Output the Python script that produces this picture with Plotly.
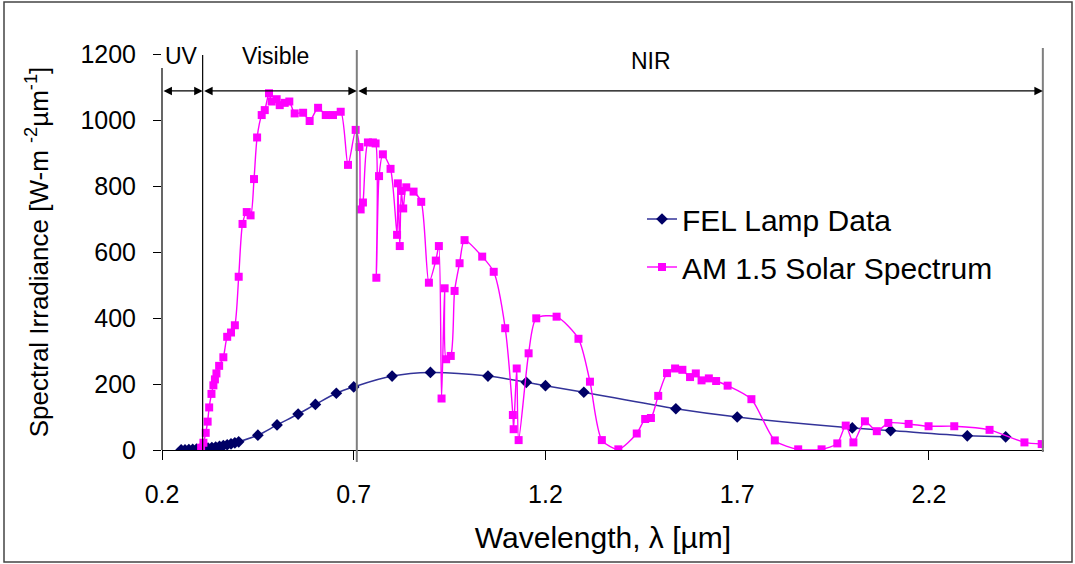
import plotly.graph_objects as go

# AM 1.5 solar spectrum (wavelength in um, irradiance in W m^-2 um^-1)
am15_wl = [0.302, 0.308, 0.314, 0.319, 0.323, 0.329, 0.334, 0.338, 0.342, 0.349,
           0.360, 0.370, 0.380, 0.390, 0.400, 0.410, 0.421, 0.431, 0.440, 0.448,
           0.460, 0.468, 0.479, 0.486, 0.499, 0.507, 0.520, 0.532, 0.546, 0.568,
           0.585, 0.607, 0.627, 0.646, 0.666, 0.685, 0.705, 0.715, 0.718, 0.724,
           0.737, 0.750, 0.757, 0.759, 0.766, 0.776, 0.796, 0.813, 0.815, 0.820,
           0.824, 0.829, 0.837, 0.856, 0.876, 0.896, 0.914, 0.922, 0.929, 0.937,
           0.941, 0.953, 0.963, 0.976, 0.989, 1.035, 1.065, 1.095, 1.115, 1.117,
           1.125, 1.130, 1.156, 1.176, 1.229, 1.286, 1.316, 1.347, 1.390, 1.438,
           1.460, 1.475, 1.494, 1.517, 1.538, 1.557, 1.577, 1.592, 1.607, 1.626,
           1.645, 1.675, 1.737, 1.798, 1.859, 1.920, 1.961, 1.983, 2.003, 2.033,
           2.064, 2.094, 2.147, 2.199, 2.266, 2.358, 2.449, 2.494]
am15_irr = [7, 22, 52, 86, 129, 170, 196, 214, 232, 255,
            281, 343, 356, 378, 525, 685, 721, 711, 821, 947,
            1015, 1030, 1081, 1056, 1063, 1045, 1052, 1056, 1020, 1022,
            997, 1037, 1015, 1015, 1025, 864, 970, 918, 729, 750,
            932, 932, 929, 522, 830, 896, 852, 652, 808, 618,
            785, 732, 796, 783, 752, 507, 574, 618, 156, 490,
            275, 285, 482, 566, 636, 586, 540, 369, 106, 63,
            247, 30, 293, 399, 404, 337, 207, 30, 2, 50,
            94, 97, 164, 233, 247, 243, 221, 232, 211, 217,
            209, 195, 154, 29, 2, 2, 20, 74, 23, 87,
            57, 82, 79, 72, 72, 61, 23, 18]

# FEL lamp calibration data
fel_wl = [0.25, 0.26, 0.27, 0.28, 0.29, 0.30, 0.31, 0.32, 0.33, 0.34,
          0.35, 0.36, 0.37, 0.38, 0.39, 0.40, 0.45, 0.50, 0.555, 0.60,
          0.6546, 0.70, 0.80, 0.90, 1.05, 1.15, 1.20, 1.30, 1.54, 1.70,
          2.00, 2.10, 2.30, 2.40]
fel_irr = [0.5, 0.8, 1.2, 1.7, 2.4, 3.3, 4.4, 5.7, 7.2, 9.0,
           11.0, 13.3, 15.8, 18.6, 21.6, 24.8, 45, 76, 109, 138,
           172, 191, 224, 235, 224, 205, 195, 175, 125, 100,
           67, 59, 43, 40]

# Spectral band boundaries (um) and their labels
band_edges = [0.2, 0.306, 0.708, 2.497]
band_names = ["UV", "Visible", "NIR"]
band_label_x = [0.25, 0.497, 1.476]
band_label_py = [56, 56, 61]

x_ticks = [0.2, 0.7, 1.2, 1.7, 2.2]
y_ticks = [0, 200, 400, 600, 800, 1000, 1200]
X_RANGE = [0.2, 2.5]
Y_RANGE = [0, 1200]

W, H = 1075, 564
ML, MR, MT, MB = 162, 31, 54, 114
PW, PH = W - ML - MR, H - MT - MB
FONT = "Liberation Sans, Arial, sans-serif"


def px_x(px):
    return (px - ML) / PW


def px_y(py):
    return (H - MB - py) / PH


def wl_to_paper(wl):
    return (wl - X_RANGE[0]) / (X_RANGE[1] - X_RANGE[0])


fig = go.Figure()
fig.add_trace(go.Scatter(
    x=fel_wl, y=fel_irr, name="FEL Lamp Data", legendgroup="fel",
    mode="lines+markers", line=dict(color="#333399", width=1.5, shape="spline", smoothing=1),
    marker=dict(symbol="diamond", size=9, color="#000066"),
))
fig.add_trace(go.Scatter(
    x=am15_wl, y=am15_irr, name="AM 1.5 Solar Spectrum", legendgroup="am15",
    mode="lines+markers", line=dict(color="#FF00FF", width=1.4, shape="spline", smoothing=0.7),
    marker=dict(symbol="square", size=8, color="#FF00FF"),
))

shapes = []
# y axis line (stops short of the top, below the UV label)
shapes.append(dict(type="line", xref="paper", yref="paper", x0=0, x1=0,
                   y0=0, y1=px_y(68), line=dict(color="black", width=1.2)))
# band boundary lines
shapes.append(dict(type="line", xref="paper", yref="paper",
                   x0=wl_to_paper(band_edges[1]), x1=wl_to_paper(band_edges[1]),
                   y0=0, y1=px_y(55), line=dict(color="black", width=1.2)))
shapes.append(dict(type="line", xref="paper", yref="paper",
                   x0=wl_to_paper(band_edges[2]), x1=wl_to_paper(band_edges[2]),
                   y0=px_y(462), y1=px_y(50), line=dict(color="#7f7f7f", width=2)))
shapes.append(dict(type="line", xref="paper", yref="paper",
                   x0=wl_to_paper(band_edges[3]), x1=wl_to_paper(band_edges[3]),
                   y0=px_y(452), y1=px_y(48), line=dict(color="#7f7f7f", width=2)))
# outer frame
shapes.append(dict(type="rect", xref="paper", yref="paper",
                   x0=px_x(4), x1=px_x(1072), y0=px_y(562), y1=px_y(2),
                   line=dict(color="#444444", width=1.5)))

annotations = []
arrow_y = 1088
for a, b in zip(band_edges[:-1], band_edges[1:]):
    annotations.append(dict(x=b, y=arrow_y, ax=a, ay=arrow_y, xref="x", yref="y",
                            axref="x", ayref="y", text="", showarrow=True,
                            arrowhead=2, arrowside="end+start", arrowsize=1.3,
                            arrowwidth=1.3, arrowcolor="black"))
for name, lx, ly in zip(band_names, band_label_x, band_label_py):
    annotations.append(dict(x=lx, y=px_y(ly), xref="x", yref="paper",
                            xanchor="center", yanchor="middle",
                            text=name, showarrow=False,
                            font=dict(family=FONT, size=23, color="black")))

fig.update_layout(
    width=W, height=H,
    margin=dict(l=ML, r=MR, t=MT, b=MB),
    paper_bgcolor="white", plot_bgcolor="white",
    font=dict(family=FONT, color="black"),
    showlegend=True,
    legend=dict(x=px_x(642), y=px_y(193), xanchor="left", yanchor="top",
                font=dict(family=FONT, size=30, color="black"),
                bgcolor="rgba(0,0,0,0)", tracegroupgap=6),
    shapes=shapes,
    annotations=annotations,
)
fig.update_xaxes(
    range=X_RANGE, tickvals=x_ticks, ticktext=[f"{v:.1f}" for v in x_ticks],
    showgrid=False, zeroline=False, showline=True, linecolor="black", linewidth=1.2,
    ticks="outside", ticklen=9, tickcolor="black", tickwidth=1.2,
    tickfont=dict(family=FONT, size=25), ticklabelstandoff=13,
    title=dict(text="Wavelength, λ [µm]", font=dict(family=FONT, size=30), standoff=19),
)
fig.update_yaxes(
    range=Y_RANGE, tickvals=y_ticks,
    showgrid=False, zeroline=False, showline=False,
    ticks="outside", ticklen=8, tickcolor="black", tickwidth=1.2,
    tickfont=dict(family=FONT, size=25), ticklabelstandoff=12,
    title=dict(text="Spectral Irradiance [W-m <sup>-2</sup>µm<sup>-1</sup>]",
               font=dict(family=FONT, size=26), standoff=24),
)

fig.write_html("out.html")
